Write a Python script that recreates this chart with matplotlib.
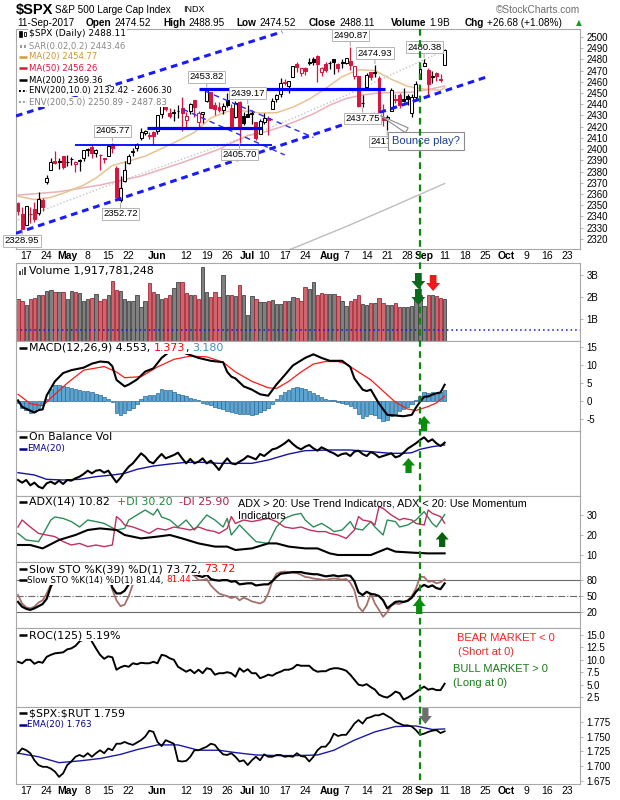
import numpy as np
import pandas as pd
import matplotlib
matplotlib.use("Agg")
import matplotlib.pyplot as plt
from matplotlib.lines import Line2D
from matplotlib.patches import Polygon, Rectangle
from matplotlib.transforms import IdentityTransform, blended_transform_factory

# ---------------- daily data 12-Apr-2017 .. 11-Sep-2017 ----------------
prev_close = 2353.78

open_ = [
    2352.0, 2342.0, 2332.6, 2342.5, 2346.8, 2342.7, 2354.7, 2370.3, 2381.5, 2389.0,
    2389.7, 2393.7, 2388.5, 2391.1, 2386.5, 2389.8, 2392.4, 2399.9, 2401.6, 2396.8,
    2394.8, 2392.4, 2394.0, 2404.6, 2383.0, 2354.7, 2371.4, 2387.2, 2397.0, 2401.4,
    2409.5, 2414.5, 2411.7, 2415.6, 2415.7, 2431.3, 2437.8, 2431.9, 2432.0, 2434.3,
    2436.4, 2425.9, 2434.2, 2443.8, 2424.1, 2431.2, 2442.6, 2450.7, 2439.3, 2437.4,
    2434.7, 2443.3, 2436.3, 2428.7, 2442.4, 2429.2, 2431.4, 2431.0, 2423.9, 2413.5,
    2424.5, 2427.4, 2435.8, 2445.0, 2449.2, 2459.5, 2455.9, 2463.8, 2475.6, 2467.4,
    2472.0, 2477.9, 2480.0, 2482.8, 2469.1, 2475.9, 2477.1, 2480.4, 2476.0, 2476.9,
    2477.1, 2478.3, 2465.4, 2465.4, 2441.0, 2455.0, 2468.7, 2468.6, 2463.0, 2427.6,
    2425.5, 2433.8, 2444.9, 2447.9, 2444.7, 2447.4, 2431.9, 2446.1, 2462.7, 2474.4,
    2470.4, 2463.8, 2468.1, 2462.3, 2474.52]
high = [
    2352.7, 2348.3, 2349.1, 2348.4, 2352.6, 2361.4, 2356.2, 2377.0, 2392.5, 2398.2,
    2392.1, 2393.7, 2394.5, 2392.9, 2389.8, 2391.4, 2399.3, 2401.4, 2403.9, 2399.7,
    2395.7, 2392.4, 2404.1, 2405.77, 2384.9, 2375.7, 2389.1, 2395.5, 2400.9, 2405.6,
    2418.7, 2416.7, 2415.3, 2416.0, 2430.1, 2440.2, 2439.5, 2436.2, 2435.3, 2439.3,
    2446.2, 2433.2, 2441.5, 2443.8, 2434.0, 2433.2, 2453.82, 2450.7, 2442.2, 2441.6,
    2441.4, 2450.4, 2440.2, 2443.0, 2442.7, 2432.7, 2439.17, 2434.8, 2424.3, 2426.9,
    2432.0, 2429.3, 2445.8, 2449.3, 2463.5, 2462.8, 2460.9, 2473.9, 2477.6, 2472.6,
    2473.1, 2481.2, 2481.7, 2484.0, 2473.5, 2478.0, 2478.5, 2480.4, 2476.3, 2480.0,
    2481.0, 2490.87, 2474.4, 2465.4, 2448.1, 2468.2, 2468.9, 2474.93, 2465.0, 2440.3,
    2430.6, 2454.8, 2448.9, 2450.4, 2454.0, 2449.1, 2449.2, 2460.3, 2475.0, 2480.38,
    2472.0, 2469.6, 2468.6, 2467.1, 2488.95]
low = [
    2341.2, 2328.95, 2332.5, 2334.5, 2335.1, 2340.9, 2344.5, 2369.2, 2381.2, 2386.8,
    2382.7, 2382.4, 2384.8, 2385.8, 2379.8, 2380.4, 2389.4, 2393.6, 2392.4, 2392.8,
    2381.7, 2387.2, 2393.9, 2396.1, 2356.2, 2352.72, 2370.4, 2386.9, 2393.9, 2398.0,
    2408.0, 2412.2, 2409.4, 2403.6, 2413.5, 2427.7, 2434.3, 2428.1, 2424.8, 2427.4,
    2415.7, 2418.5, 2431.3, 2428.3, 2418.5, 2422.9, 2441.8, 2436.6, 2430.7, 2433.3,
    2431.1, 2437.6, 2419.3, 2428.0, 2405.7, 2421.6, 2428.7, 2422.1, 2407.7, 2413.5,
    2422.3, 2412.8, 2435.6, 2441.7, 2446.7, 2457.2, 2450.3, 2463.8, 2468.4, 2465.1,
    2466.3, 2474.9, 2474.9, 2459.9, 2464.7, 2468.5, 2471.1, 2466.5, 2468.9, 2472.1,
    2475.9, 2470.3, 2462.1, 2437.8, 2437.75, 2455.0, 2461.6, 2463.8, 2429.9, 2420.7,
    2417.35, 2433.7, 2441.4, 2436.2, 2442.2, 2439.0, 2428.2, 2443.8, 2462.65, 2473.85,
    2446.55, 2459.2, 2460.3, 2459.4, 2474.52]
close = [
    2344.93, 2328.95, 2349.01, 2342.19, 2338.17, 2355.84, 2348.69, 2374.15, 2388.61, 2387.45,
    2388.77, 2384.20, 2388.33, 2391.17, 2388.13, 2389.52, 2399.29, 2399.38, 2396.92, 2399.63,
    2394.44, 2390.90, 2402.32, 2400.67, 2357.03, 2365.72, 2381.73, 2394.02, 2398.42, 2404.39,
    2415.07, 2415.82, 2412.91, 2411.80, 2430.06, 2439.07, 2436.10, 2429.33, 2433.14, 2433.79,
    2431.77, 2429.39, 2440.35, 2437.92, 2432.46, 2433.15, 2453.46, 2437.03, 2435.61, 2434.50,
    2438.30, 2439.07, 2419.38, 2440.69, 2419.70, 2423.41, 2429.01, 2432.54, 2409.75, 2425.18,
    2427.43, 2425.53, 2443.25, 2447.83, 2459.27, 2459.14, 2460.61, 2473.83, 2473.45, 2472.54,
    2469.91, 2477.13, 2477.83, 2475.42, 2472.10, 2470.30, 2476.35, 2477.57, 2472.16, 2476.83,
    2480.91, 2474.92, 2474.02, 2438.21, 2441.32, 2465.84, 2464.61, 2468.11, 2430.01, 2425.55,
    2428.37, 2452.51, 2444.04, 2438.97, 2443.05, 2444.24, 2446.30, 2457.59, 2471.65, 2476.55,
    2457.85, 2465.54, 2465.10, 2461.43, 2488.11]

# volume, billions of shares
volume = [
    1.92, 1.80, 1.64, 1.92, 1.95, 2.10, 2.10, 2.28, 2.34, 2.23,
    2.23, 2.23, 1.92, 2.28, 2.23, 2.20, 1.84, 1.89, 1.95, 2.12,
    1.84, 1.92, 2.08, 2.75, 2.31, 2.28, 1.89, 1.81, 1.84, 2.08,
    1.53, 1.80, 2.62, 2.23, 2.15, 1.92, 1.95, 2.10, 2.42, 2.70,
    2.67, 2.20, 2.10, 2.10, 1.92, 3.36, 2.23, 2.00, 2.23, 2.00,
    3.00, 2.08, 2.10, 2.05, 2.53, 2.10, 1.17, 2.05, 1.92, 1.77,
    1.77, 1.80, 1.88, 1.69, 1.69, 1.80, 1.84, 2.00, 1.97, 1.84,
    2.47, 2.36, 2.70, 2.10, 2.20, 2.16, 2.16, 2.16, 2.05, 1.84,
    1.61, 1.84, 1.89, 2.10, 1.69, 1.66, 1.73, 1.72, 1.95, 1.72,
    1.64, 1.64, 1.72, 1.53, 1.53, 1.53, 1.58, 2.00, 2.08, 1.58,
    2.10, 2.10, 2.03, 1.97, 1.92]
volume_last = 1917781248

# overlays on the price panel (session index, value)
ma20_idx = [0, 4, 8, 12, 16, 19, 23, 27, 31, 35, 39, 43, 47, 51, 55, 59, 63, 67, 71, 75,
            79, 83, 87, 91, 95, 99, 103, 104]
ma20_val = [2358, 2355, 2357, 2362, 2368, 2374.2, 2385.4, 2389.4, 2393.7, 2400.5, 2407.4,
            2414.9, 2427.8, 2433.5, 2434.0, 2432.2, 2432.4, 2437.3, 2444.5, 2454.1, 2464.5,
            2470.7, 2470.0, 2462.2, 2455.9, 2453.4, 2452.5, 2454.77]
ma50_idx = [0, 10, 20, 30, 40, 49, 52, 56, 60, 64, 68, 72, 76, 80, 84, 88, 92, 96, 100, 104]
ma50_val = [2359, 2362, 2368, 2376, 2388, 2399.9, 2405.4, 2412.0, 2415.1, 2419.6, 2425.2,
            2431.4, 2439.2, 2445.1, 2448.2, 2450.1, 2450.4, 2450.7, 2453.0, 2456.26]
ma200_idx = [0, 20, 40, 60, 68, 80, 92, 104]
ma200_val = [2226, 2252, 2277, 2302, 2313, 2331, 2350, 2369.36]
env5_val = [2337, 2365, 2391, 2417, 2429, 2448, 2468, 2487.83]
sar_last = 2443.46

# MACD(12,26,9)
macd_idx = [0, 1, 4, 5, 6, 7, 9, 11, 13, 16, 18, 20, 22, 23, 24, 26, 27, 29, 31, 33,
            35, 37, 40, 44, 47, 50, 51, 52, 53, 55, 57, 59, 61, 63, 65, 67, 70, 72, 74, 76,
            79, 81, 82, 84, 85, 86, 88, 90, 92, 94, 96, 97, 98, 99, 100, 101, 102, 103, 104]
macd_val = [0.2, -1.6, -3.2, -2.5, -2.3, 1.6, 5.5, 7.8, 8.6, 9.3, 10.4, 11.0, 10.8, 9.7, 5.9,
            4.1, 4.6, 6.0, 8.2, 9.1, 12.0, 13.8, 13.6, 12.0, 11.2, 10.8, 8.1, 6.8, 6.3, 4.1,
            3.2, 1.9, 1.5, 4.6, 7.2, 9.9, 12.0, 13.0, 12.0, 11.2, 11.2, 9.5, 6.3, 3.2, 2.8,
            3.2, -0.7, -3.8, -4.0, -4.2, -3.8, -1.8, -0.2, 1.2, 1.3, 1.8, 2.2, 2.4, 4.553]
signal_idx = [0, 3, 6, 9, 12, 16, 21, 24, 26, 30, 34, 38, 42, 46, 50, 53, 57, 61, 63, 66,
              69, 72, 75, 78, 80, 83, 86, 89, 92, 95, 97, 100, 102, 104]
signal_val = [1.9, -0.7, -1.3, 1.9, 5.0, 8.6, 9.6, 8.1, 6.5, 6.8, 9.5, 11.6, 12.5, 12.3, 10.8,
              8.1, 5.5, 3.7, 3.5, 5.5, 8.1, 10.3, 11.0, 11.0, 10.3, 8.1, 5.9, 2.8, -0.3, -2.2,
              -2.6, -1.5, -0.5, 1.373]
macd_hist = [
    -0.5, -1.8, -2.5, -3.2, -2.8, -1.9, -1.2, 0.6, 3.5, 4.6,
    4.5, 4.3, 4.0, 3.6, 3.3, 3.0, 2.9, 2.7, 2.4, 1.9,
    1.6, 1.2, 0.6, -0.2, -3.4, -3.8, -3.2, -2.6, -1.9, -0.8,
    0.6, 1.3, 1.7, 1.8, 2.3, 3.4, 3.2, 3.0, 2.5, 2.1,
    1.7, 1.3, 0.8, 0.6, 0.2, -0.4, -0.8, -1.2, -1.6, -1.9,
    -2.3, -2.7, -3.0, -3.2, -3.5, -3.7, -3.6, -3.8, -3.6, -3.0,
    -2.6, -1.8, -0.9, 0.6, 1.7, 2.6, 3.2, 3.6, 3.8, 3.6,
    3.3, 2.8, 2.3, 1.6, 1.1, 0.6, 0.3, 0.2, -0.2, -0.6,
    -0.9, -1.3, -1.9, -3.6, -4.6, -4.2, -3.5, -3.8, -4.8, -5.6,
    -5.2, -4.0, -3.5, -2.8, -2.2, -1.5, -0.8, 0.3, 1.5, 2.6,
    2.2, 2.4, 2.3, 2.5, 3.18]

# On Balance Volume (billions, arbitrary base) and its EMA(20)
obv = [
    4.5, 3.7, 4.5, 2.9, 3.7, 2.5, 2.0, 3.5, 4.0, 3.3,
    4.3, 3.3, 4.5, 4.3, 5.0, 5.5, 6.3, 7.3, 6.5, 7.3,
    7.5, 6.7, 7.3, 5.5, 3.8, 5.2, 7.0, 8.5, 9.5, 11.0,
    12.5, 11.5, 10.0, 9.5, 11.0, 12.3, 11.0, 11.5, 12.0, 12.7,
    11.0, 9.5, 10.8, 9.5, 10.0, 11.0, 9.5, 10.3, 9.0, 7.5,
    9.5, 11.0, 9.5, 9.2, 10.0, 10.7, 11.7, 11.2, 10.7, 12.3,
    11.7, 12.7, 13.7, 14.0, 14.7, 15.5, 16.5, 15.3, 14.3, 13.7,
    14.5, 15.0, 14.0, 13.3, 14.3, 13.7, 13.0, 12.5, 11.7, 12.3,
    12.5, 11.7, 13.0, 13.3, 12.3, 11.7, 12.9, 12.3, 11.3, 11.7,
    12.1, 12.5, 11.3, 11.7, 12.7, 13.9, 14.7, 15.5, 16.5, 17.3,
    16.0, 16.7, 15.5, 14.7, 15.7]
obv_ema_idx = [0, 4, 7, 11, 15, 19, 23, 26, 29, 33, 37, 41, 45, 49, 52, 57, 61, 66, 70, 76,
               81, 86, 91, 94, 96, 98, 101, 104]
obv_ema_val = [6.7, 6.0, 4.7, 4.5, 4.7, 5.5, 6.0, 6.5, 7.7, 8.7, 9.3, 9.8, 9.8, 9.5, 9.5,
               9.5, 10.5, 12.3, 13.3, 13.5, 13.5, 13.0, 12.5, 12.5, 12.7, 13.7, 14.5, 15.0]

# ADX(14), +DI, -DI
adx_idx = [0, 3, 6, 10, 14, 17, 20, 24, 26, 30, 34, 37, 40, 44, 48, 51, 53, 57, 61, 63,
           66, 70, 73, 76, 78, 82, 86, 90, 92, 96, 100, 104]
adx_val = [15, 15, 13.3, 17.5, 20, 22.5, 23.3, 22.5, 20, 18.3, 19.2, 20, 18.3, 15.8, 14.2,
           14.2, 12.5, 13.3, 15.8, 15.8, 14.2, 13.3, 13.3, 10.8, 10.0, 10.0, 10.0, 13.3,
           11.7, 11.2, 10.8, 10.82]
pdi_idx = [0, 2, 5, 6, 8, 9, 11, 13, 15, 17, 19, 21, 24, 26, 27, 29, 31, 33, 34, 35,
           37, 39, 41, 43, 44, 46, 48, 50, 51, 52, 54, 56, 58, 61, 63, 65, 67, 69, 70, 72,
           74, 76, 77, 79, 81, 82, 84, 86, 87, 89, 90, 92, 93, 95, 97, 99, 101, 102, 104]
pdi_val = [20.8, 17.5, 16.7, 20, 27.5, 29, 28.3, 26.7, 24, 27.5, 26.7, 25.8, 22.5, 23.3,
           27.5, 30, 32.5, 30, 33, 29, 27.5, 24, 27.5, 22.5, 25, 30, 27.5, 24, 28.3, 20,
           25, 20.8, 16.7, 15.8, 24, 28.3, 30, 30.8, 27.5, 24, 25.8, 23.3, 21.7, 22.5,
           26.7, 23.3, 22.5, 26.7, 24, 20, 27.5, 26.7, 24, 25, 27.5, 31.7, 25.8, 24, 30.2]
mdi_idx = [0, 1, 3, 5, 7, 9, 11, 13, 15, 17, 19, 21, 23, 24, 25, 26, 28, 30, 32, 34,
           36, 38, 40, 42, 44, 46, 48, 49, 51, 52, 53, 55, 57, 59, 61, 63, 65, 67, 69, 71,
           73, 75, 76, 78, 80, 82, 83, 84, 86, 87, 88, 89, 91, 93, 94, 96, 97, 99, 100, 101,
           103, 104]
mdi_val = [24, 27.5, 24, 20.8, 20, 19.2, 16.7, 15, 15.8, 14.2, 15, 14.2, 15, 29.2, 27.5,
           25, 24, 22.5, 20.8, 23.3, 22.5, 24, 23.3, 22.5, 24, 22.5, 21.7, 20.8, 23.3, 29.2,
           25.8, 27.5, 26.7, 27.5, 28.3, 26.7, 24, 23.3, 24, 22.5, 21.7, 21.7, 20.8, 20,
           18.3, 22.5, 29.2, 27.5, 26.7, 25, 34.2, 33.3, 30, 27.5, 28.3, 27.5, 25.8, 25,
           32.5, 30.8, 29.2, 25.9]

# Slow stochastics
sto39 = [
    39, 30, 26, 24, 27, 31, 35, 45, 68, 82,
    88, 87, 89, 91, 89, 90, 95, 95, 93, 94,
    91, 88, 92, 66, 55, 55, 60, 72, 86, 90,
    94, 95, 93, 92, 96, 98, 96, 92, 93, 93,
    91, 89, 93, 91, 88, 86, 90, 82, 80, 79,
    80, 80, 77, 78, 72, 73, 74, 74, 70, 71,
    72, 72, 78, 86, 92, 93, 94, 95, 95, 95,
    93, 92, 91, 91, 89, 87, 88, 89, 87, 88,
    89, 88, 78, 57, 52, 58, 54, 53, 50, 42,
    27, 33, 39, 40, 39, 41, 47, 58, 66, 71,
    67, 70, 65, 63, 73.72]
sto14 = [
    52, 36, 29, 27, 30, 38, 42, 55, 72, 88,
    90, 85, 88, 92, 88, 90, 97, 96, 90, 93,
    86, 80, 92, 62, 42, 31, 34, 50, 72, 86,
    93, 95, 90, 88, 97, 99, 96, 86, 90, 90,
    86, 82, 92, 88, 80, 80, 82, 70, 62, 55,
    52, 50, 46, 49, 42, 47, 44, 40, 38, 36,
    40, 55, 78, 92, 95, 96, 95, 94, 93, 90,
    86, 85, 83, 82, 81, 80, 82, 83, 82, 81,
    82, 75, 61, 30, 21, 33, 55, 36, 24, 11,
    20, 32, 36, 35, 39, 42, 50, 64, 86, 86,
    77, 78, 74, 76, 81.44]

# ROC(125), percent
roc = [
    9.6, 9.3, 10.0, 10.0, 9.2, 9.6, 9.4, 10.6, 11.0, 11.3,
    11.4, 11.5, 12.1, 12.3, 12.8, 13.7, 14.1, 15.2, 13.7, 12.3,
    11.0, 10.2, 10.7, 10.5, 8.0, 8.5, 8.8, 8.6, 9.3, 9.1,
    9.4, 9.3, 9.3, 9.6, 9.3, 11.0, 10.8, 10.3, 10.0, 8.6,
    8.1, 7.6, 8.0, 7.3, 8.0, 7.3, 8.3, 8.1, 7.0, 7.3,
    7.3, 7.5, 7.3, 6.6, 8.3, 7.6, 8.1, 7.3, 7.3, 6.3,
    6.6, 7.0, 6.8, 7.3, 7.6, 8.0, 8.0, 8.3, 9.0, 8.8,
    8.8, 8.8, 8.0, 7.6, 7.7, 7.7, 8.1, 8.3, 8.3, 8.1,
    7.8, 7.0, 6.0, 5.0, 4.8, 5.1, 4.5, 4.0, 3.0, 2.6,
    2.4, 2.9, 3.6, 3.3, 2.0, 2.4, 2.9, 3.5, 4.1, 4.6,
    4.0, 4.2, 3.9, 3.9, 5.19]

# $SPX:$RUT ratio and EMA(20)
ratio = [
    1.722, 1.730, 1.727, 1.722, 1.710, 1.702, 1.699, 1.699, 1.696, 1.691,
    1.682, 1.688, 1.702, 1.708, 1.716, 1.719, 1.716, 1.722, 1.716, 1.722,
    1.727, 1.722, 1.730, 1.727, 1.738, 1.738, 1.741, 1.738, 1.736, 1.740,
    1.744, 1.750, 1.760, 1.758, 1.741, 1.734, 1.744, 1.741, 1.738, 1.709,
    1.708, 1.709, 1.716, 1.727, 1.727, 1.730, 1.733, 1.738, 1.736, 1.727,
    1.720, 1.719, 1.722, 1.716, 1.708, 1.710, 1.702, 1.710, 1.716, 1.710,
    1.720, 1.716, 1.716, 1.719, 1.719, 1.716, 1.717, 1.716, 1.722, 1.717,
    1.716, 1.708, 1.716, 1.727, 1.733, 1.733, 1.741, 1.755, 1.751, 1.753,
    1.753, 1.762, 1.772, 1.778, 1.772, 1.781, 1.783, 1.786, 1.786, 1.789,
    1.785, 1.781, 1.775, 1.772, 1.769, 1.769, 1.767, 1.761, 1.753, 1.755,
    1.758, 1.760, 1.761, 1.756, 1.759]
ratio_ema_idx = [0, 5, 10, 15, 20, 25, 29, 34, 39, 44, 49, 53, 58, 63, 68, 73, 77, 82, 87,
                 92, 97, 101, 104]
ratio_ema_val = [1.722, 1.716, 1.706, 1.709, 1.713, 1.720, 1.728, 1.736, 1.736, 1.727,
                 1.727, 1.723, 1.719, 1.718, 1.718, 1.719, 1.727, 1.744, 1.758, 1.767,
                 1.768, 1.762, 1.763]

# axis labels
tick_dates = ["2017-04-17", "2017-04-24", "2017-05-01", "2017-05-08", "2017-05-15",
              "2017-05-22", "2017-06-01", "2017-06-12", "2017-06-19", "2017-06-26",
              "2017-07-03", "2017-07-10", "2017-07-17", "2017-07-24", "2017-08-01",
              "2017-08-07", "2017-08-14", "2017-08-21", "2017-08-28", "2017-09-01",
              "2017-09-11", "2017-09-18", "2017-09-25", "2017-10-02", "2017-10-09",
              "2017-10-16", "2017-10-23"]
tick_labels = ["17", "24", "May", "8", "15", "22", "Jun", "12", "19", "26", "Jul", "10",
               "17", "24", "Aug", "7", "14", "21", "28", "Sep", "11", "18", "25", "Oct",
               "9", "16", "23"]
marker_date = "2017-08-31"

# annotated highs / lows
price_labels = [(1, "low"), (23, "high"), (25, "low"), (46, "high"), (56, "high"),
                (54, "low"), (81, "high"), (87, "high"), (84, "low"), (90, "low"), (99, "high")]

# analyst drawn lines: ((idx, price), (idx, price))
channel_up = ((-0.5, 2429.5), (64.4, 2504.5))
channel_dn = ((-0.5, 2325.0), (114.0, 2464.0))
flag_up = ((45.6, 2451.7), (72.0, 2410.4))
flag_dn = ((40.2, 2435.5), (65.0, 2394.8))
support = [(14, 62, 2403.6, 1.3), (31.5, 59.5, 2418.5, 2.3), (44, 89.5, 2453.5, 2.3)]

# ---------------- figure ----------------
W, H = 620, 800
plt.rcParams["font.family"] = ["Liberation Sans", "DejaVu Sans"]
LEG = ["DejaVu Sans"]
fig = plt.figure(figsize=(W / 100, H / 100), dpi=100)

holidays = pd.to_datetime(["2017-04-14", "2017-05-29", "2017-07-04", "2017-09-04"])
days = pd.bdate_range("2017-04-12", "2017-10-31")
days = days[~days.isin(holidays)]
n = len(close)
x = np.arange(n)
tick_pos = days.get_indexer(pd.to_datetime(tick_dates))
marker_x = days.get_loc(pd.Timestamp(marker_date))
XL = (-0.49, 137.0)
PL, PR = 16, 580


def panel(top, bottom):
    return fig.add_axes([PL / W, 1 - bottom / H, (PR - PL) / W, (bottom - top) / H])


def setup(ax, ylim, ticks=None, fmt="{:g}"):
    ax.set_xlim(XL)
    ax.set_ylim(ylim)
    for s in ax.spines.values():
        s.set_color("#a8a8a8")
        s.set_linewidth(0.8)
    ax.yaxis.tick_right()
    ax.tick_params(axis="y", length=2.5, width=0.6, color="#a8a8a8", labelsize=7, pad=2)
    ax.tick_params(axis="x", length=0, labelbottom=False)
    if ticks is None:
        ax.set_yticks([])
    else:
        ax.set_yticks(ticks)
        ax.set_yticklabels([fmt.format(t) for t in ticks])


price = panel(29, 249)
vol = panel(263, 341)
macd_ax = panel(341, 431)
obv_ax = panel(431, 496)
adx_ax = panel(496, 562)
sto_ax = panel(562, 628)
roc_ax = panel(628, 707)
rat_ax = panel(707, 784)

setup(price, (2311, 2507), list(range(2320, 2501, 10)), "{:d}")
setup(vol, (0, 3.55), [1, 2, 3], "{:d}B")
setup(macd_ax, (-8.3, 16.7), [-5, 0, 5, 10, 15], "{:d}")
setup(obv_ax, (-0.3, 19.2))
setup(adx_ax, (6.5, 39.5), [10, 20, 30], "{:d}")
setup(sto_ax, (-10, 114), [20, 50, 80], "{:d}")
setup(roc_ax, (0.5, 16.4), [2.5, 5.0, 7.5, 10.0, 12.5, 15.0], "{:.1f}")
setup(rat_ax, (1.670, 1.800), [1.675, 1.700, 1.725, 1.750, 1.775], "{:.3f}")

for ax in (price, rat_ax):
    ax.set_xticks(tick_pos)
    ax.set_xticklabels(tick_labels, fontsize=7.5)
    ax.tick_params(axis="x", length=0, pad=1.5, labelbottom=True)
    for lab, txt in zip(ax.get_xticklabels(), tick_labels):
        if txt.isalpha():
            lab.set_fontweight("bold")

# ---- price panel ----
o = np.array(open_)
c = np.array(close)
up = c >= np.concatenate([[prev_close], c[:-1]])
ccol = np.where(up, "#000000", "#d8173f")
face = np.where(c < o, ccol, "white")
price.plot(ma200_idx, env5_val, color="#c4c4c4", lw=1, ls=(0, (1, 1.5)), zorder=2)
price.plot(ma200_idx, ma200_val, color="#bdbdbd", lw=1, zorder=2)
price.plot(ma50_idx, ma50_val, color="#ebb0b8", lw=1.1, zorder=2)
price.plot(ma20_idx, ma20_val, color="#e8c392", lw=1.1, zorder=2)
price.vlines(x, low, high, colors=ccol, lw=0.9, zorder=3)
price.bar(x, np.maximum(np.abs(c - o), 0.4), bottom=np.minimum(o, c), width=0.72,
          color=face, edgecolor=ccol, linewidth=0.75, zorder=4)

for (x0, y0), (x1, y1) in (channel_up, channel_dn):
    price.plot([x0, x1], [y0, y1], color="#1a1aff", lw=2.2, ls=(0, (2.2, 1.6)), zorder=5)
for (x0, y0), (x1, y1) in (flag_up, flag_dn):
    price.plot([x0, x1], [y0, y1], color="#2a2aff", lw=1.0, ls=(0, (4, 3)), zorder=5)
for x0, x1, yv, lw in support:
    price.plot([x0, x1], [yv, yv], color="#0000ff", lw=lw, zorder=5, solid_capstyle="butt")

for i, kind in price_labels:
    val = high[i] if kind == "high" else low[i]
    dy = 8.5 if kind == "high" else -8.5
    price.annotate(f"{val:.2f}", xy=(i, val), xytext=(0, dy), textcoords="offset points",
                   ha="center", va="center", fontsize=6.8, annotation_clip=False, zorder=7,
                   bbox=dict(boxstyle="square,pad=0.15", fc="white", ec="#b4b4b4", lw=0.7),
                   arrowprops=dict(arrowstyle="-", color="#a0a0a0", lw=0.7, shrinkA=0, shrinkB=1))

price.annotate("Bounce play?", xy=(87.8, 2431), xytext=(99.4, 2407.2), textcoords="data",
               ha="center", va="center", fontsize=8, color="#1c3f94", zorder=8,
               bbox=dict(boxstyle="square,pad=0.35", fc="white", ec="#8c8c8c", lw=0.8),
               arrowprops=dict(arrowstyle="wedge,tail_width=0.5,shrink_factor=0.5",
                               fc="white", ec="#8c8c8c", lw=0.8))

# ---- volume ----
vol.bar(x, volume, width=0.82, color=np.where(up, "#808080", "#d0656e"),
        edgecolor=np.where(up, "#454545", "#a3283a"), linewidth=0.6)
vol.axhline(0.5, color="#1010ff", lw=1.1, ls=(0, (1, 2)))

# ---- MACD ----
macd_ax.bar(x, macd_hist, width=0.85, color="#5aa5d2", edgecolor="#2a6a98", linewidth=0.5)
macd_ax.plot(signal_idx, signal_val, color="#ff1a1a", lw=0.9)
macd_ax.plot(macd_idx, macd_val, color="black", lw=1.5)

# ---- OBV ----
obv_ax.plot(obv_ema_idx, obv_ema_val, color="#1414a0", lw=1.0)
obv_ax.plot(x, obv, color="black", lw=1.5)

# ---- ADX ----
adx_ax.plot(pdi_idx, pdi_val, color="#2e8b57", lw=1.0)
adx_ax.plot(mdi_idx, mdi_val, color="#c2305e", lw=1.0)
adx_ax.plot(adx_idx, adx_val, color="black", lw=1.5)

# ---- STO ----
for lv in (80, 20):
    sto_ax.axhline(lv, color="#6a6a6a", lw=0.8)
sto_ax.axhline(50, color="#6a6a6a", lw=0.8, ls="-.")
sto_ax.plot(x, sto14, color="#a6706a", lw=1.3)
sto_ax.plot(x, sto39, color="black", lw=1.6)

# ---- ROC ----
roc_ax.plot(x, roc, color="black", lw=1.4)

# ---- ratio ----
rat_ax.plot(ratio_ema_idx, ratio_ema_val, color="#1a1aa8", lw=1.0)
rat_ax.plot(x, ratio, color="black", lw=1.3)

# ---- green event line through all panels ----
tr = blended_transform_factory(price.transData, fig.transFigure)
fig.add_artist(Line2D([marker_x, marker_x], [1 - 29 / H, 1 - 784 / H], transform=tr,
                      color="#0b8a0b", lw=1.6, ls=(0, (3, 2)), zorder=5))

# ---------------- text helpers ----------------
renderer = fig.canvas.get_renderer()
ID = IdentityTransform()
MAIN = 7.9   # main indicator legends
SUB = 6.1    # overlay legends


def rich(xp, yp, parts, size=MAIN, family=LEG, bg=True, weight="normal"):
    space = 0.31 * size * 100 / 72
    x0 = xp
    y0s, y1s = [], []
    for part in parts:
        s, col = part[0], part[1]
        wt = part[2] if len(part) > 2 else weight
        body = s.rstrip(" ")
        t = fig.text(xp, H - yp, body, transform=ID, fontsize=size, color=col,
                     fontweight=wt, family=family, ha="left", va="center", zorder=6,
                     parse_math=False)
        bb = t.get_window_extent(renderer)
        y0s.append(bb.y0)
        y1s.append(bb.y1)
        xp = bb.x1 + space * (len(s) - len(body))
    if bg:
        fig.add_artist(Rectangle((x0 - 1, min(y0s) - 0.5), xp - x0 + 2, max(y1s) - min(y0s) + 1,
                                 transform=ID, fc="white", ec="none", zorder=5.5))
    return xp


def dash_icon(xp, yp, color, ls="-", lw=1.8):
    fig.add_artist(Line2D([xp, xp + 8], [H - yp, H - yp], transform=ID, color=color,
                          lw=lw, ls=ls, solid_capstyle="butt", zorder=6))


def block_arrow(ax, idx, y_tail, y_tip, color, w=13):
    xp = ax.transData.transform((idx, 0))[0]
    yt, yh = H - y_tail, H - y_tip
    sgn = 1 if yh > yt else -1
    yb = yh - sgn * abs(yh - yt) * 0.5
    sw, hw = w * 0.24, w * 0.5
    pts = [(xp - sw, yt), (xp - sw, yb), (xp - hw, yb), (xp, yh), (xp + hw, yb),
           (xp + sw, yb), (xp + sw, yt)]
    fig.add_artist(Polygon(pts, closed=True, transform=ID, facecolor=color,
                           edgecolor="none", zorder=7))


# ---- header ----
fig.text(16, H - 10, "$SPX", transform=ID, fontsize=10.5, fontweight="bold", va="center",
         parse_math=False)
fig.text(55, H - 10, "S&P 500 Large Cap Index", transform=ID, fontsize=7.2, va="center")
fig.text(183, H - 10, "INDX", transform=ID, fontsize=6.5, va="center")
fig.text(580, H - 10, "\u00a9StockCharts.com", transform=ID, fontsize=7.3, va="center",
         ha="right", color="#6e6e6e")
chg = close[-1] - close[-2]
hdr = [("11-Sep-2017", 17, None), ("Open", 86, f"{open_[-1]:.2f}"),
       ("High", 163, f"{high[-1]:.2f}"), ("Low", 236, f"{low[-1]:.2f}"),
       ("Close", 309, f"{close[-1]:.2f}"), ("Volume", 391, f"{volume_last / 1e9:.1f}B"),
       ("Chg", 465, f"+{chg:.2f} (+{chg / close[-2] * 100:.2f}%)")]
for key, xp, val in hdr:
    if val is None:
        rich(xp, 23, [(key, "black")], size=7.2, family=["Liberation Sans"], bg=False)
    else:
        rich(xp, 23, [(key + " ", "black", "bold"), (val, "black")], size=7.2,
             family=["Liberation Sans"], bg=False)
fig.text(576, H - 23, "\u25b2", transform=ID, fontsize=5.5, color="#1f9a1f", va="center",
         family=LEG)

# ---- price legend ----
fig.add_artist(Rectangle((19, H - 37), 2.5, 6, transform=ID, fc="black", ec="black", lw=0.5, zorder=6))
fig.add_artist(Rectangle((23.5, H - 36), 2.5, 4, transform=ID, fc="white", ec="black", lw=0.6, zorder=6))
rich(29, 34, [(f"$SPX (Daily) {close[-1]:.2f}", "black")], size=6.6)
for xs in (19.5, 23.5):
    fig.add_artist(Rectangle((xs, H - 47.5), 2.5, 2.5, transform=ID, fc="#9a9a9a", ec="none", zorder=6))
rich(29, 46, [(f"SAR(0.02,0.2) {sar_last:.2f}", "#8c8c8c")], size=SUB)
dash_icon(19, 57, "#d49a3a")
rich(29, 57, [(f"MA(20) {ma20_val[-1]:.2f}", "#d09630")], size=SUB)
dash_icon(19, 68, "#dc143c")
rich(29, 68, [(f"MA(50) {ma50_val[-1]:.2f}", "#dc143c")], size=SUB)
dash_icon(19, 80, "black")
rich(29, 80, [(f"MA(200) {ma200_val[-1]:.2f}", "black")], size=SUB)
dash_icon(19, 91, "black", ls=(0, (1, 1)), lw=1.4)
rich(29, 91, [("ENV(200,10.0) 2132.42 - 2606.30", "black")], size=SUB)
dash_icon(19, 102, "#9a9a9a", ls=(0, (1, 1)), lw=1.4)
rich(29, 102, [(f"ENV(200,5.0) 2250.89 - {env5_val[-1]:.2f}", "#808080")], size=SUB)

# ---- other legends ----
for k, hgt in enumerate((4, 6, 8)):
    fig.add_artist(Rectangle((19 + k * 2.6, H - 275), 1.8, hgt, transform=ID, fc="#505050",
                             ec="none", zorder=6))
rich(29, 271, [(f"Volume {volume_last:,}", "black")])

dash_icon(19, 348, "black")
rich(29, 348, [(f"MACD(12,26,9) {macd_val[-1]:.3f}, ", "black"),
               (f"{signal_val[-1]:.3f}", "#ff0000"), (", ", "black"),
               (f"{macd_hist[-1]:.3f}", "#3a8fc0")])

dash_icon(19, 437, "black")
rich(29, 437, [("On Balance Vol", "black")])
dash_icon(19, 449, "#00008b")
rich(27, 449, [("EMA(20)", "#00008b")], size=6.5)

dash_icon(19, 502, "black")
rich(29, 502, [(f"ADX(14) {adx_val[-1]:.2f}  ", "black"), (f"+DI {pdi_val[-1]:.2f}  ", "#1e8a3c"),
               (f"-DI {mdi_val[-1]:.2f}", "#b0204a")])
fig.text(238, H - 503, "ADX > 20: Use Trend Indicators, ADX < 20: Use Momentum",
         transform=ID, fontsize=7.8, va="center", zorder=6)
fig.text(238, H - 516, "Indicators", transform=ID, fontsize=7.8, va="center", zorder=6)

dash_icon(19, 569, "black")
rich(29, 569, [(f"Slow STO %K(39) %D(1) {sto39[-1]:.2f}, ", "black"),
               (f"{sto39[-1]:.2f}", "#ff0000")])
dash_icon(19, 580, "black")
rich(27, 580, [(f"Slow STO %K(14) %D(1) {sto14[-1]:.2f}, ", "black"),
               (f"{sto14[-1]:.2f}", "#ff0000")], size=SUB + 0.2)

dash_icon(19, 635, "black")
rich(29, 635, [(f"ROC(125) {roc[-1]:.2f}%", "black")])
for txt, xp, yp, col in (("BEAR MARKET < 0", 457, 638, "#ff2020"),
                         ("(Short at 0)", 458, 652, "#e03030"),
                         ("BULL MARKET > 0", 453, 669, "#1a7a1a"),
                         ("(Long at 0)", 453, 683, "#1a7a1a")):
    fig.text(xp, H - yp, txt, transform=ID, fontsize=8, color=col, va="center", zorder=6)

dash_icon(19, 713, "black")
rich(29, 713, [(f"$SPX:$RUT {ratio[-1]:.3f}", "black")])
dash_icon(19, 725, "#00008b")
rich(27, 725, [(f"EMA(20) {ratio_ema_val[-1]:.3f}", "#00008b")], size=SUB + 0.2)

# ---- arrows ----
block_arrow(vol, 97.6, 273, 289, "#0b6a1e", w=14)
block_arrow(vol, 97.6, 289, 305, "#0b6a1e", w=14)
block_arrow(vol, 101.2, 275, 291, "#f01818", w=14)
block_arrow(macd_ax, 99.0, 431, 416, "#0c8c0c", w=13)
block_arrow(obv_ax, 95.2, 473, 458, "#0c8c0c", w=13)
block_arrow(adx_ax, 103.4, 547, 532, "#06620a", w=13)
block_arrow(sto_ax, 97.8, 614, 598, "#0c8c0c", w=13)
block_arrow(rat_ax, 99.3, 708, 724, "#6e6e6e", w=13)

fig.savefig("out.png", dpi=100)
